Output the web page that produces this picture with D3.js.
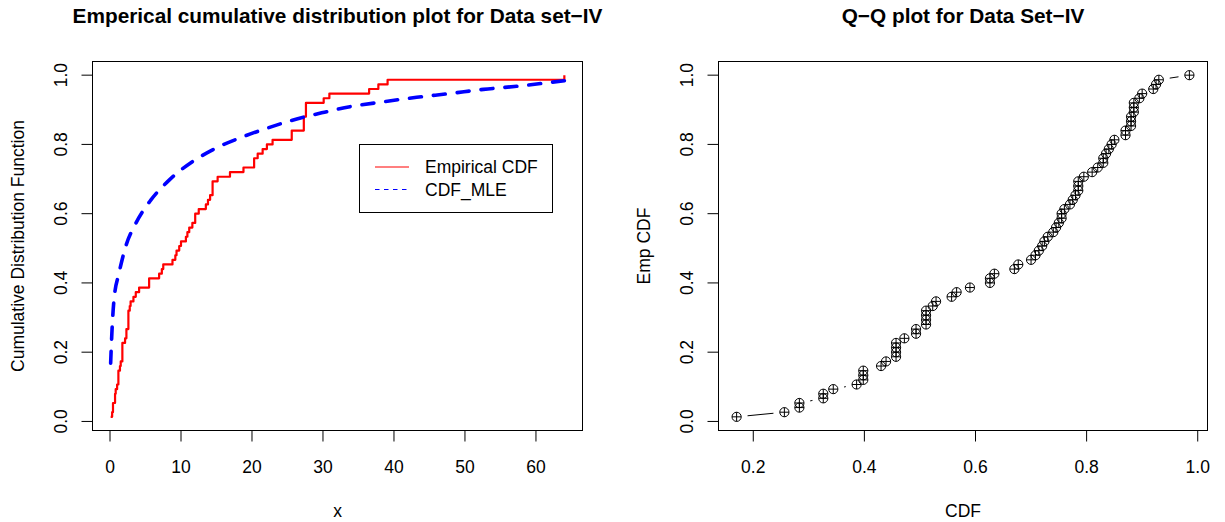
<!DOCTYPE html>
<html><head><meta charset="utf-8">
<script src="https://cdn.jsdelivr.net/npm/d3@7"></script>
<style>body{margin:0;background:#fff} text{font-family:"Liberation Sans",Arial,Helvetica,sans-serif;fill:#000}</style>
</head><body><svg id="c" width="1225" height="522"></svg>
<script>
// ---- data ----
const dataX = [0.09,0.3,0.42,0.42,0.71,0.71,0.8,1.0,1.18,1.18,
  1.18,1.4,1.51,1.74,1.74,1.74,1.74,2.12,2.31,2.31,
  2.59,2.59,2.59,2.59,2.78,2.9,3.3,3.63,4.1,5.51,
  5.51,6.92,7.3,7.5,8.8,9.2,9.37,9.75,10.0,10.69,
  10.9,11.16,11.6,12.0,12.0,12.5,13.5,13.8,14.1,14.45,
  14.45,14.45,15.16,16.9,18.8,20.3,20.3,20.8,21.5,22.1,
  22.9,25.6,25.6,27.3,27.3,27.3,27.6,27.6,27.6,30.1,
  30.9,36.5,37.8,39.1,64.0];
const empCDF = [0.0133,0.0267,0.04,0.0533,0.0667,0.08,0.0933,0.1067,0.12,0.1333,
  0.1467,0.16,0.1733,0.1867,0.2,0.2133,0.2267,0.24,0.2533,0.2667,
  0.28,0.2933,0.3067,0.32,0.3333,0.3467,0.36,0.3733,0.3867,0.4,
  0.4133,0.4267,0.44,0.4533,0.4667,0.48,0.4933,0.5067,0.52,0.5333,
  0.5467,0.56,0.5733,0.5867,0.6,0.6133,0.6267,0.64,0.6533,0.6667,
  0.68,0.6933,0.7067,0.72,0.7333,0.7467,0.76,0.7733,0.7867,0.8,
  0.8133,0.8267,0.84,0.8533,0.8667,0.88,0.8933,0.9067,0.92,0.9333,
  0.9467,0.96,0.9733,0.9867,1.0];
const qqCDF = [0.170,0.256,0.283,0.283,0.326,0.326,0.344,0.386,0.398,0.398,
  0.398,0.430,0.439,0.457,0.457,0.457,0.457,0.472,0.493,0.493,
  0.511,0.511,0.511,0.511,0.523,0.529,0.557,0.566,0.590,0.626,
  0.626,0.634,0.670,0.677,0.700,0.708,0.714,0.720,0.724,0.730,
  0.740,0.745,0.750,0.755,0.755,0.760,0.770,0.775,0.780,0.785,
  0.785,0.785,0.795,0.810,0.820,0.830,0.830,0.835,0.840,0.845,
  0.850,0.870,0.870,0.880,0.880,0.880,0.885,0.885,0.885,0.895,
  0.900,0.920,0.925,0.930,0.985];
const mleX   = [0.09,0.24,0.56,1.27,2.21,3.63,5.74,8.33,11.6,14.9,18.7,22.0,25.7,30.0,33.8,38.5,43.2,47.9,52.6,57.3,64.0];
const mleCDF = [0.168,0.245,0.351,0.428,0.505,0.572,0.639,0.697,0.750,0.789,0.822,0.846,0.870,0.892,0.909,0.923,0.936,0.947,0.959,0.968,0.984];
const xTicksL = [0,10,20,30,40,50,60];
const yTicks = [0,0.2,0.4,0.6,0.8,1.0];
const xTicksR = [0.2,0.4,0.6,0.8,1.0];
const titles = ["Emperical cumulative distribution plot for Data set\u2212IV","Q\u2212Q plot for Data Set\u2212IV"];
const legendLabels = ["Empirical CDF","CDF_MLE"];

(function(){
// ---- layout ----
const svg = d3.select("#c");
const topY = 61.5, botY = 430.5;
const panels = [{x0:92.5,x1:582.5},{x0:718.5,x1:1207.5}];
const AX = 17.5;
function ext(a){const r=a[1]-a[0];return [a[0]-0.04*r,a[1]+0.04*r];}

const yDom = ext(d3.extent(empCDF));
function drawFrame(p, xs, ys, xt, yt, xfmt, title, xlab, ylab){
  const g = svg.append("g");
  g.append("rect").attr("x",p.x0).attr("y",topY).attr("width",p.x1-p.x0).attr("height",botY-topY)
   .attr("fill","none").attr("stroke","#000").attr("stroke-width",1);
  xt.forEach(v=>{
    const x = xs(v);
    g.append("line").attr("x1",x).attr("x2",x).attr("y1",botY).attr("y2",botY+11).attr("stroke","#000");
    g.append("text").attr("x",x).attr("y",472.5).attr("text-anchor","middle").attr("font-size",AX).text(xfmt(v));
  });
  yt.forEach(v=>{
    const y = ys(v);
    g.append("line").attr("x1",p.x0-11).attr("x2",p.x0).attr("y1",y).attr("y2",y).attr("stroke","#000");
    g.append("text").attr("transform",`translate(${p.x0-26},${y}) rotate(-90)`).attr("text-anchor","middle").attr("font-size",AX).text(d3.format(".1f")(v));
  });
  const cx = (p.x0+p.x1)/2;
  g.append("text").attr("x",cx).attr("y",23).attr("text-anchor","middle").attr("font-size",20.8).attr("font-weight","bold").text(title);
  g.append("text").attr("x",cx).attr("y",517).attr("text-anchor","middle").attr("font-size",AX).text(xlab);
  g.append("text").attr("transform",`translate(${p.x0-69},${(topY+botY)/2}) rotate(-90)`).attr("text-anchor","middle").attr("font-size",AX).text(ylab);
}

// ---- left panel ----
const pL = panels[0];
const xL = d3.scaleLinear().domain(ext(d3.extent(dataX))).range([pL.x0,pL.x1]);
const yS = d3.scaleLinear().domain(yDom).range([botY,topY]);
drawFrame(pL, xL, yS, xTicksL, yTicks, d3.format("d"), titles[0], "x", "Cumulative Distribution Function");

const ecdfPts = dataX.map((d,i)=>[d, empCDF[i]]);
svg.append("path").datum(ecdfPts)
  .attr("d", d3.line().x(d=>xL(d[0])).y(d=>yS(d[1])).curve(d3.curveStepAfter))
  .attr("fill","none").attr("stroke","#FF0000").attr("stroke-width",2.2).attr("stroke-linejoin","round");

const mlePts = mleX.map((d,i)=>[d, mleCDF[i]]);
svg.append("path").datum(mlePts)
  .attr("d", d3.line().x(d=>xL(d[0])).y(d=>yS(d[1])).curve(d3.curveMonotoneX))
  .attr("fill","none").attr("stroke","#0000FF").attr("stroke-width",3.6)
  .attr("stroke-dasharray","12,12").attr("stroke-linecap","round");

// legend
const lg = svg.append("g");
lg.append("rect").attr("x",359.5).attr("y",144.5).attr("width",193).attr("height",68).attr("fill","#fff").attr("stroke","#000");
lg.append("line").attr("x1",375).attr("x2",409).attr("y1",167).attr("y2",167).attr("stroke","#FF0000").attr("stroke-width",1.1);
lg.append("line").attr("x1",375).attr("x2",409).attr("y1",189.5).attr("y2",189.5).attr("stroke","#0000FF").attr("stroke-width",1.1).attr("stroke-dasharray","4.5,4.5");
lg.append("text").attr("x",425).attr("y",173.3).attr("font-size",AX).text(legendLabels[0]);
lg.append("text").attr("x",425).attr("y",195.8).attr("font-size",AX).text(legendLabels[1]);

// ---- right panel ----
const pR = panels[1];
const xR = d3.scaleLinear().domain(ext(d3.extent(qqCDF))).range([pR.x0,pR.x1]);
drawFrame(pR, xR, yS, xTicksR, yTicks, d3.format(".1f"), titles[1], "CDF", "Emp CDF");

const qq = qqCDF.map((d,i)=>[xR(d), yS(empCDF[i])]);
const gap = 11;
const qg = svg.append("g");
for(let i=0;i<qq.length-1;i++){
  const a=qq[i], b=qq[i+1];
  const dx=b[0]-a[0], dy=b[1]-a[1], d=Math.hypot(dx,dy);
  if(d>2*gap){
    const ux=dx/d, uy=dy/d;
    qg.append("line").attr("x1",a[0]+ux*gap).attr("y1",a[1]+uy*gap)
      .attr("x2",b[0]-ux*gap).attr("y2",b[1]-uy*gap).attr("stroke","#000").attr("stroke-width",1);
  }
}
const r = 4.6;
qq.forEach(p=>{
  qg.append("circle").attr("cx",p[0]).attr("cy",p[1]).attr("r",r).attr("fill","none").attr("stroke","#000").attr("stroke-width",1);
  qg.append("line").attr("x1",p[0]-r).attr("x2",p[0]+r).attr("y1",p[1]).attr("y2",p[1]).attr("stroke","#000").attr("stroke-width",1);
  qg.append("line").attr("x1",p[0]).attr("x2",p[0]).attr("y1",p[1]-r).attr("y2",p[1]+r).attr("stroke","#000").attr("stroke-width",1);
});
})();
</script></body></html>
